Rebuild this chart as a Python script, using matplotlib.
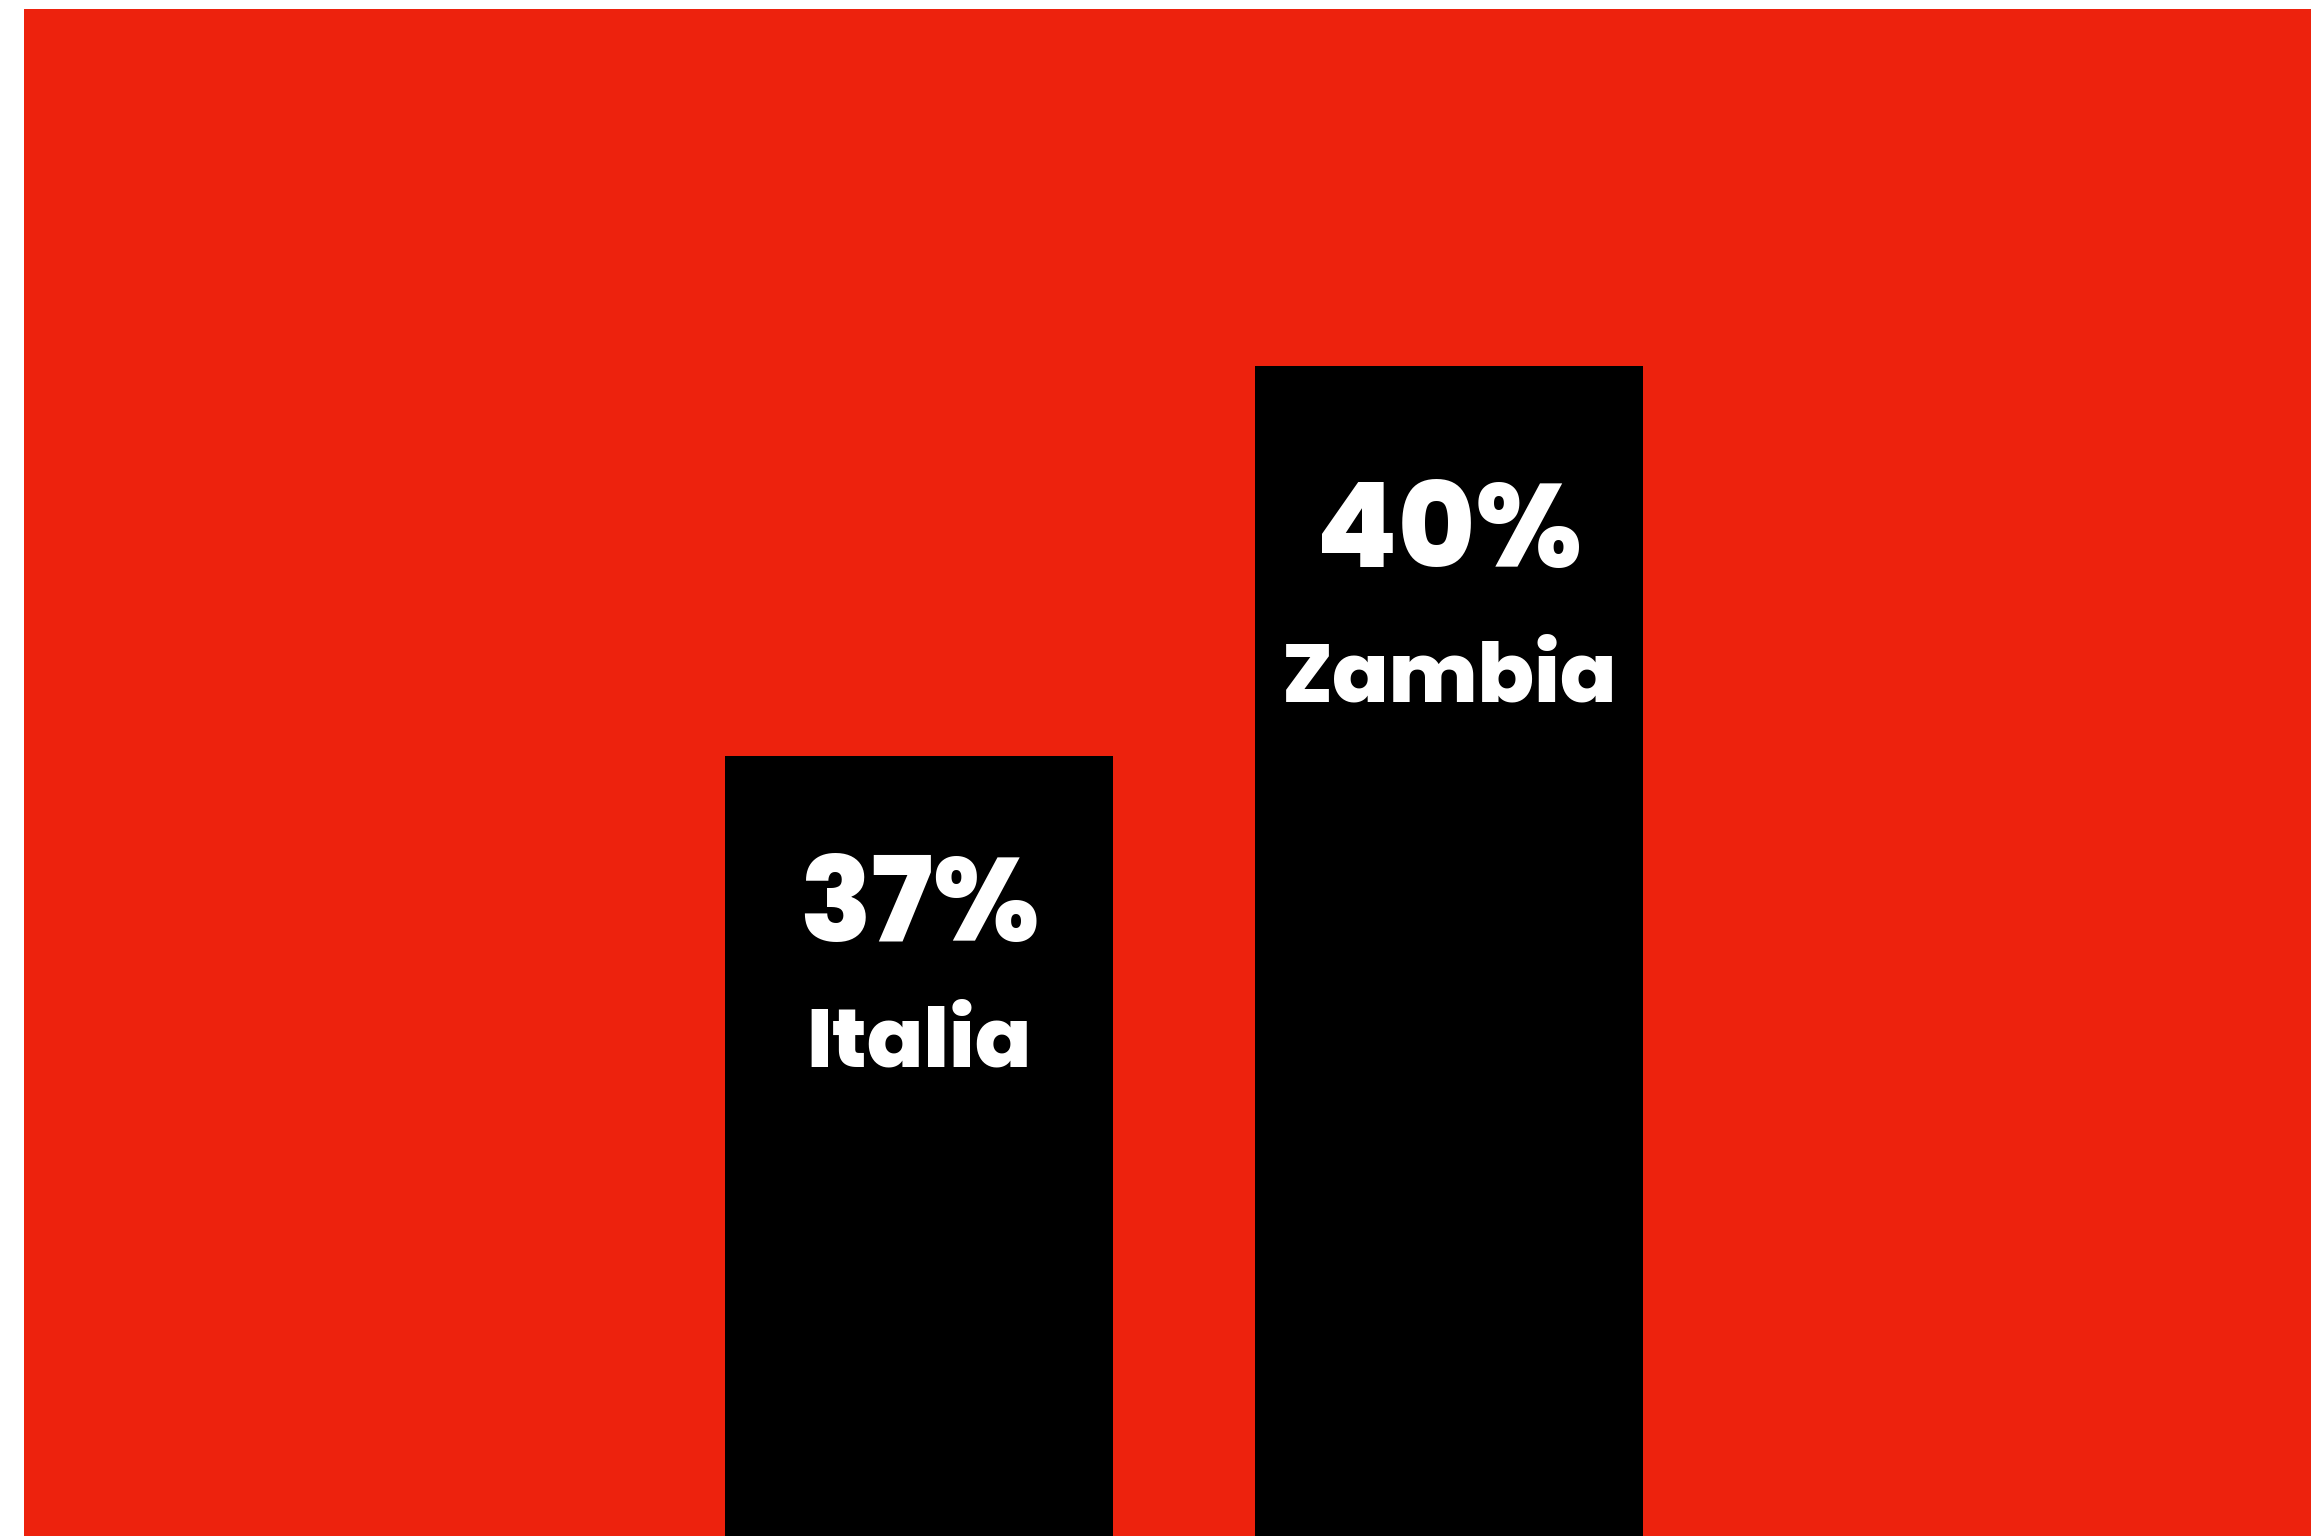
import matplotlib
matplotlib.use("Agg")
import matplotlib.pyplot as plt

# --- data ---
countries = ["Italia", "Zambia"]
shares = [37, 40]
value_labels = ["37%", "40%"]

bg_red = "#ED220D"
bar_black = "#000000"
heavy = ["Poppins", "Lato", "DejaVu Sans"]

fig = plt.figure(figsize=(23.11, 15.36), dpi=100)
fig.patch.set_facecolor("white")
ax = fig.add_axes([24 / 2311, 0, (2311 - 24) / 2311, (1536 - 9) / 1536])

x = list(range(len(countries)))
ax.bar(x, shares, width=0.732, color=bar_black)

# chart is cropped: only the tops of the bars show
ax.set_xlim(-1.689, 2.626)
ax.set_ylim(31.0, 42.75)
ax.axis("off")
ax.add_patch(plt.Rectangle((0, 0), 1, 1, transform=ax.transAxes, color=bg_red, zorder=-1))

# labels sit at a fixed fraction of each bar's height
for xi, val, lab, name in zip(x, shares, value_labels, countries):
    ax.text(xi, val * 0.9615, lab, ha="center", va="baseline", color="white",
            fontsize=85, family=heavy, fontweight=800)
    ax.text(xi, val * 0.9355, name, ha="center", va="baseline", color="white",
            fontsize=60, family=heavy, fontweight=800)

fig.savefig("out.png", dpi=100, facecolor=fig.get_facecolor())
